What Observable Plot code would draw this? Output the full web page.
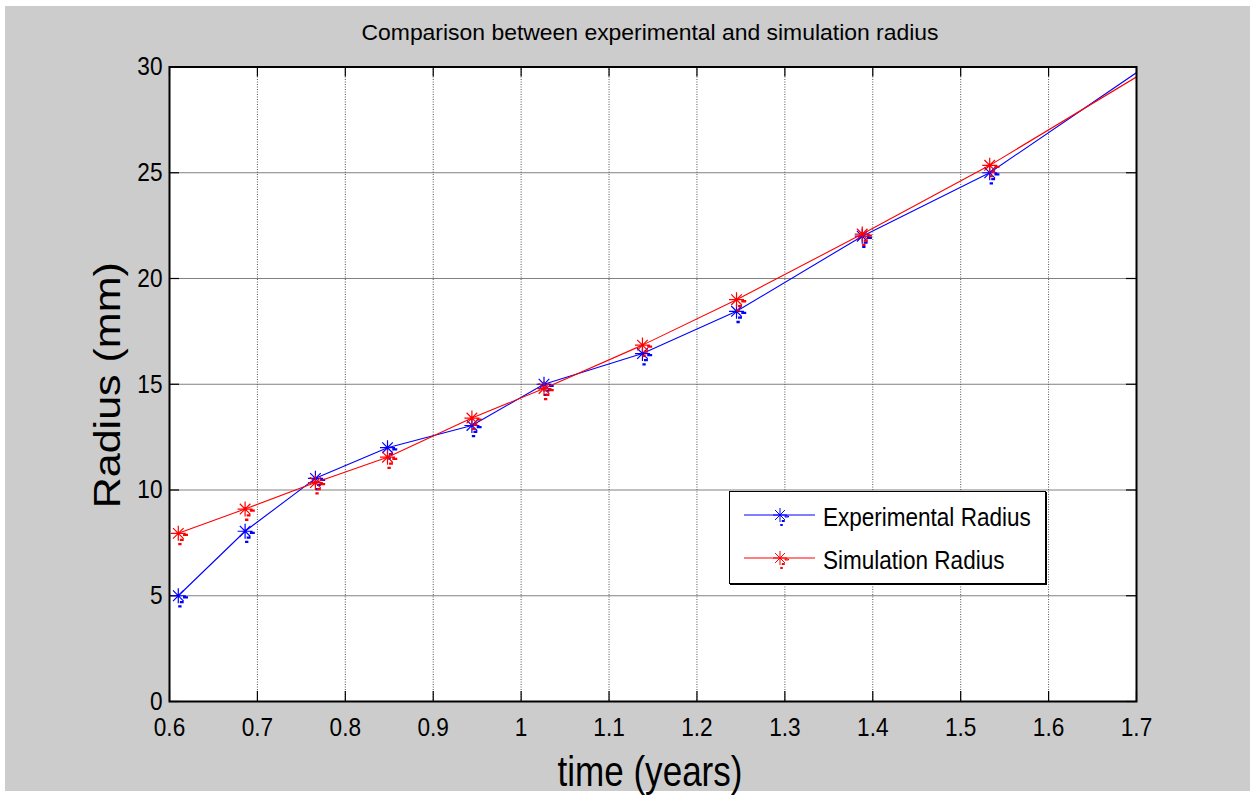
<!DOCTYPE html>
<html>
<head>
<meta charset="utf-8">
<script src="https://cdn.jsdelivr.net/npm/d3@7"></script>
<script src="https://cdn.jsdelivr.net/npm/@observablehq/plot@0.6"></script>
<style>
  body { margin: 0; background: #fff; font-family: "Liberation Sans", Arial, Helvetica, sans-serif; }
  #fig { position: absolute; left: 5px; top: 6px; width: 1245px; height: 785px; background: #cccccc; }
  #legend { position: absolute; left: 729px; top: 491px; width: 315px; height: 91px;
            background: #fff; border: 1.5px solid #000; box-shadow: 1px 1px 0 #000; }
  #legend svg { display: block; }
</style>
</head>
<body>
<div id="fig"></div>
<div id="legend"></div>
<script>
// Growth of the radius over time: measured values vs. model output
const time         = [0.610, 0.686, 0.766, 0.848, 0.944, 1.026, 1.138, 1.245, 1.388, 1.533, 1.75];
const experimental = [5.00, 8.05, 10.55, 12.00, 13.05, 15.00, 16.45, 18.45, 22.00, 25.00, 31.15];
const simulation   = [7.95, 9.10, 10.35, 11.55, 13.40, 14.80, 16.85, 19.00, 22.10, 25.35, 30.78];

const seriesNames = ["Experimental Radius", "Simulation Radius"];
const seriesColors = ["#0000ff", "#ff0000"];

const xTicks = [0.6, 0.7, 0.8, 0.9, 1, 1.1, 1.2, 1.3, 1.4, 1.5, 1.6, 1.7];
const yTicks = [0, 5, 10, 15, 20, 25, 30];

const titleText = "Comparison between experimental and simulation radius";
const xLabel = "time (years)";
const yLabel = "Radius (mm)";

const expRows = time.map((t, i) => ({t, r: experimental[i]}));
const simRows = time.map((t, i) => ({t, r: simulation[i]}));

// MATLAB-style '*' marker, with the small trailing dashes of the rendered glyph
const star = {
  draw(context, size) {
    const r = Math.sqrt(size / Math.PI);
    const d = r * Math.SQRT1_2;
    const k = r / 7;
    context.moveTo(-r, 0); context.lineTo(r, 0);
    context.moveTo(0, -r); context.lineTo(0, r);
    context.moveTo(-d, -d); context.lineTo(d, d);
    context.moveTo(-d, d); context.lineTo(d, -d);
    const dash = (x0, x1, y) => {
      context.moveTo(x0 * k, y * k);
      context.lineTo(x1 * k, y * k);
      context.lineTo(x1 * k, (y + 1) * k);
      context.lineTo(x0 * k, (y + 1) * k);
      context.closePath();
    };
    dash(5, 8.5, 1);
    dash(2, 4.5, 5.5);
    dash(0.5, 2.5, 9.5);
  }
};

const W = 1245, H = 785;
const mL = 164, mR = 114, mT = 60.5, mB = 90;
const fw = W - mL - mR, fh = H - mT - mB;
const tickLen = 10;
const font = "'Liberation Sans', Arial, Helvetica, sans-serif";

const chart = Plot.plot({
  width: W,
  height: H,
  marginLeft: mL,
  marginRight: mR,
  marginTop: mT,
  marginBottom: mB,
  style: {background: "transparent", color: "#000", fontFamily: font, overflow: "visible"},
  x: {domain: [0.6, 1.7]},
  y: {domain: [0, 30]},
  marks: [
    Plot.frame({fill: "#fff", stroke: null}),
    Plot.gridY(yTicks, {stroke: "#808080", strokeOpacity: 1, strokeWidth: 1}),
    Plot.gridX(xTicks, {stroke: "#555", strokeOpacity: 1, strokeWidth: 1, strokeDasharray: "1,1.5"}),
    // inward tick marks on all four sides
    Plot.tickX(xTicks, {x: d => d, insetTop: fh - tickLen, stroke: "#000", strokeWidth: 1.2}),
    Plot.tickX(xTicks, {x: d => d, insetBottom: fh - tickLen, stroke: "#000", strokeWidth: 1.2}),
    Plot.tickY(yTicks, {y: d => d, insetRight: fw - tickLen, stroke: "#000", strokeWidth: 1.2}),
    Plot.tickY(yTicks, {y: d => d, insetLeft: fw - tickLen, stroke: "#000", strokeWidth: 1.2}),
    Plot.axisX(xTicks, {anchor: "bottom", tickSize: 0, tickPadding: 16, fontSize: 26, tickFormat: d => `${d}`, label: null}),
    Plot.axisY(yTicks, {anchor: "left", tickSize: 0, tickPadding: 7, fontSize: 26, tickFormat: d => `${d}`, label: null}),
    // experimental series
    Plot.line(expRows, {x: "t", y: "r", stroke: seriesColors[0], strokeWidth: 1.1, clip: true}),
    Plot.dot(expRows, {x: "t", y: "r", symbol: star, r: 7.5, stroke: seriesColors[0], fill: "none", strokeWidth: 1.2, clip: true}),
    // simulation series
    Plot.line(simRows, {x: "t", y: "r", stroke: seriesColors[1], strokeWidth: 1.1, clip: true}),
    Plot.dot(simRows, {x: "t", y: "r", symbol: star, r: 7.5, stroke: seriesColors[1], fill: "none", strokeWidth: 1.2, clip: true}),
    Plot.frame({stroke: "#000", strokeWidth: 2}),
    // title and axis labels
    Plot.text([titleText], {text: d => d, frameAnchor: "top", textAnchor: "middle", lineAnchor: "middle", dy: -34, dx: -3, fontSize: 22}),
    Plot.text([xLabel], {text: d => d, frameAnchor: "bottom", textAnchor: "middle", lineAnchor: "middle", dy: 71, dx: -3, fontSize: 42}),
    Plot.text([yLabel], {text: d => d, frameAnchor: "left", textAnchor: "middle", lineAnchor: "middle", rotate: -90, dx: -61, dy: 1, fontSize: 36})
  ]
});

document.getElementById("fig").append(chart);

// narrow Helvetica-like lettering
const svg = d3.select(chart);
svg.selectAll('g[aria-label="x-axis tick label"] text, g[aria-label="y-axis tick label"] text').each(function () {
  const w = this.getComputedTextLength();
  this.setAttribute("textLength", w * 0.87);
  this.setAttribute("lengthAdjust", "spacingAndGlyphs");
});
const fit = (content, len) => svg.selectAll("text")
  .filter(function () { return this.textContent === content; })
  .attr("textLength", len).attr("lengthAdjust", "spacingAndGlyphs");
fit(titleText, 577);
fit(xLabel, 185);
fit(yLabel, 246);

// legend box
const lg = d3.select("#legend").append("svg").attr("width", 315).attr("height", 91);
const symbolPath = d3.symbol(star, 7 * 7 * Math.PI)();
const rows = [23, 66];
seriesNames.forEach((name, i) => {
  const y = rows[i];
  lg.append("line").attr("x1", 14).attr("x2", 85).attr("y1", y).attr("y2", y)
    .attr("stroke", seriesColors[i]).attr("stroke-width", 1.1);
  lg.append("path").attr("d", symbolPath).attr("transform", `translate(50,${y})`)
    .attr("fill", "none").attr("stroke", seriesColors[i]).attr("stroke-width", 1);
  // condensed lettering via horizontal scale
  lg.append("text").attr("transform", `translate(93,${y + 11}) scale(0.85,1)`)
    .attr("font-size", 26.5).attr("font-family", font)
    .text(name);
});
</script>
</body>
</html>
